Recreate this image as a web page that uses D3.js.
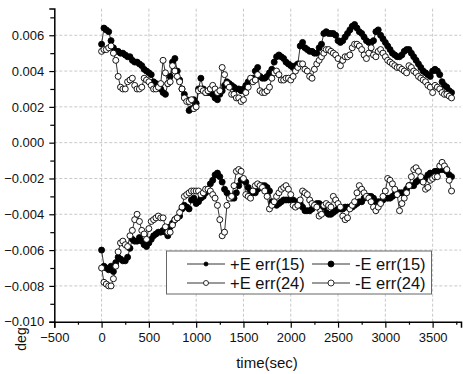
<!DOCTYPE html>
<html>
<head>
<meta charset="utf-8">
<script src="https://cdn.jsdelivr.net/npm/d3@7"></script>
<style>
  body { margin: 0; background: #fff; }
  svg { display: block; font-family: Arial, "Liberation Sans", sans-serif; }
</style>
</head>
<body>
<div id="chart"></div>
<script>
// sample times (sec)
const times = [
  0, 25, 50, 75, 100, 125, 150, 175, 200, 225,
  250, 275, 300, 325, 350, 375, 400, 425, 450, 475,
  500, 525, 550, 575, 600, 625, 650, 675, 700, 725,
  750, 775, 800, 825, 850, 875, 900, 925, 950, 975,
  1000, 1025, 1050, 1075, 1100, 1125, 1150, 1175, 1200, 1225,
  1250, 1275, 1300, 1325, 1350, 1375, 1400, 1425, 1450, 1475,
  1500, 1525, 1550, 1575, 1600, 1625, 1650, 1675, 1700, 1725,
  1750, 1775, 1800, 1825, 1850, 1875, 1900, 1925, 1950, 1975,
  2000, 2025, 2050, 2075, 2100, 2125, 2150, 2175, 2200, 2225,
  2250, 2275, 2300, 2325, 2350, 2375, 2400, 2425, 2450, 2475,
  2500, 2525, 2550, 2575, 2600, 2625, 2650, 2675, 2700, 2725,
  2750, 2775, 2800, 2825, 2850, 2875, 2900, 2925, 2950, 2975,
  3000, 3025, 3050, 3075, 3100, 3125, 3150, 3175, 3200, 3225,
  3250, 3275, 3300, 3325, 3350, 3375, 3400, 3425, 3450, 3475,
  3500, 3525, 3550, 3575, 3600, 3625, 3650, 3675, 3700
];

const plusErr15 = [
  0.0055, 0.0064, 0.0063, 0.0062, 0.0057, 0.0053, 0.0051, 0.0051, 0.0050, 0.0050,
  0.0049, 0.0048, 0.0048, 0.0046, 0.0045, 0.0045, 0.0044, 0.0043, 0.0041, 0.0040,
  0.0039, 0.0038, 0.0034, 0.0033, 0.0031, 0.0030, 0.0028, 0.0027, 0.0033, 0.0037,
  0.0045, 0.0047, 0.0040, 0.0035, 0.0030, 0.0027, 0.0024, 0.0018, 0.0019, 0.0024,
  0.0022, 0.0030, 0.0036, 0.0030, 0.0028, 0.0028, 0.0028, 0.0027, 0.0025, 0.0024,
  0.0027, 0.0029, 0.0032, 0.0034, 0.0033, 0.0032, 0.0031, 0.0030, 0.0030, 0.0029,
  0.0030, 0.0032, 0.0034, 0.0035, 0.0036, 0.0040, 0.0042, 0.0037, 0.0036, 0.0036,
  0.0037, 0.0039, 0.0041, 0.0045, 0.0048, 0.0049, 0.0048, 0.0047, 0.0045, 0.0044,
  0.0043, 0.0042, 0.0043, 0.0044, 0.0054, 0.0056, 0.0053, 0.0052, 0.0051, 0.0051,
  0.0050, 0.0050, 0.0053, 0.0055, 0.0061, 0.0062, 0.0061, 0.0061, 0.0061, 0.0060,
  0.0057, 0.0056, 0.0057, 0.0059, 0.0061, 0.0063, 0.0065, 0.0066, 0.0064, 0.0062,
  0.0061, 0.0059, 0.0057, 0.0056, 0.0056, 0.0057, 0.0062, 0.0063, 0.0060, 0.0058,
  0.0056, 0.0054, 0.0052, 0.0050, 0.0049, 0.0048, 0.0048, 0.0049, 0.0051, 0.0052,
  0.0052, 0.0050, 0.0048, 0.0046, 0.0044, 0.0042, 0.0040, 0.0039, 0.0038, 0.0037,
  0.0040, 0.0041, 0.0040, 0.0038, 0.0034, 0.0032, 0.0031, 0.0029, 0.0028
];

const minusErr15 = [
  -0.0060, -0.0069, -0.0070, -0.0071, -0.0069, -0.0072, -0.0067, -0.0064, -0.0065, -0.0066,
  -0.0066, -0.0064, -0.0059, -0.0054, -0.0055, -0.0055, -0.0053, -0.0055, -0.0057, -0.0058,
  -0.0056, -0.0054, -0.0052, -0.0051, -0.0050, -0.0050, -0.0049, -0.0050, -0.0052, -0.0047,
  -0.0045, -0.0043, -0.0042, -0.0041, -0.0037, -0.0035, -0.0036, -0.0037, -0.0032, -0.0031,
  -0.0034, -0.0033, -0.0031, -0.0030, -0.0028, -0.0026, -0.0023, -0.0021, -0.0018, -0.0017,
  -0.0019, -0.0022, -0.0026, -0.0028, -0.0030, -0.0031, -0.0031, -0.0028, -0.0024, -0.0021,
  -0.0021, -0.0022, -0.0025, -0.0027, -0.0028, -0.0028, -0.0026, -0.0025, -0.0024, -0.0024,
  -0.0025, -0.0027, -0.0033, -0.0034, -0.0035, -0.0034, -0.0033, -0.0032, -0.0032, -0.0032,
  -0.0032, -0.0032, -0.0033, -0.0033, -0.0034, -0.0036, -0.0038, -0.0038, -0.0038, -0.0037,
  -0.0035, -0.0034, -0.0034, -0.0035, -0.0036, -0.0039, -0.0040, -0.0040, -0.0039, -0.0038,
  -0.0037, -0.0037, -0.0037, -0.0036, -0.0036, -0.0036, -0.0036, -0.0035, -0.0034, -0.0033,
  -0.0033, -0.0031, -0.0030, -0.0030, -0.0030, -0.0031, -0.0033, -0.0033, -0.0033, -0.0032,
  -0.0031, -0.0031, -0.0031, -0.0030, -0.0029, -0.0028, -0.0028, -0.0028, -0.0028, -0.0026,
  -0.0024, -0.0024, -0.0024, -0.0022, -0.0021, -0.0021, -0.0021, -0.0020, -0.0018, -0.0017,
  -0.0017, -0.0016, -0.0016, -0.0015, -0.0015, -0.0015, -0.0016, -0.0018, -0.0019
];

const plusErr24 = [
  0.0051, 0.0052, 0.0052, 0.0053, 0.0054, 0.0050, 0.0046, 0.0037, 0.0031, 0.0030,
  0.0030, 0.0034, 0.0035, 0.0036, 0.0032, 0.0030, 0.0030, 0.0031, 0.0036, 0.0035,
  0.0034, 0.0032, 0.0030, 0.0030, 0.0031, 0.0033, 0.0046, 0.0039, 0.0033, 0.0034,
  0.0043, 0.0040, 0.0037, 0.0034, 0.0030, 0.0025, 0.0023, 0.0023, 0.0024, 0.0019,
  0.0020, 0.0029, 0.0030, 0.0029, 0.0028, 0.0029, 0.0030, 0.0032, 0.0030, 0.0028,
  0.0029, 0.0042, 0.0038, 0.0033, 0.0031, 0.0027, 0.0027, 0.0025, 0.0025, 0.0023,
  0.0024, 0.0028, 0.0031, 0.0036, 0.0034, 0.0035, 0.0038, 0.0029, 0.0028, 0.0028,
  0.0029, 0.0031, 0.0036, 0.0039, 0.0040, 0.0038, 0.0035, 0.0035, 0.0036, 0.0036,
  0.0035, 0.0037, 0.0040, 0.0042, 0.0044, 0.0044, 0.0041, 0.0040, 0.0037, 0.0036,
  0.0041, 0.0044, 0.0046, 0.0048, 0.0050, 0.0052, 0.0052, 0.0051, 0.0050, 0.0049,
  0.0047, 0.0043, 0.0046, 0.0048, 0.0048, 0.0049, 0.0053, 0.0055, 0.0055, 0.0054,
  0.0052, 0.0049, 0.0047, 0.0050, 0.0053, 0.0049, 0.0048, 0.0051, 0.0052, 0.0050,
  0.0048, 0.0046, 0.0045, 0.0044, 0.0043, 0.0042, 0.0042, 0.0041, 0.0040, 0.0039,
  0.0043, 0.0042, 0.0040, 0.0039, 0.0037, 0.0036, 0.0035, 0.0034, 0.0032, 0.0031,
  0.0028, 0.0032, 0.0031, 0.0030, 0.0028, 0.0027, 0.0027, 0.0026, 0.0025
];

const minusErr24 = [
  -0.0070, -0.0078, -0.0079, -0.0080, -0.0080, -0.0076, -0.0069, -0.0061, -0.0056, -0.0055,
  -0.0057, -0.0058, -0.0052, -0.0049, -0.0043, -0.0040, -0.0044, -0.0049, -0.0051, -0.0054,
  -0.0048, -0.0044, -0.0043, -0.0042, -0.0041, -0.0042, -0.0042, -0.0047, -0.0050, -0.0050,
  -0.0046, -0.0043, -0.0042, -0.0039, -0.0036, -0.0030, -0.0029, -0.0028, -0.0027, -0.0027,
  -0.0027, -0.0027, -0.0029, -0.0028, -0.0026, -0.0026, -0.0027, -0.0029, -0.0031, -0.0035,
  -0.0043, -0.0052, -0.0050, -0.0035, -0.0031, -0.0030, -0.0024, -0.0016, -0.0015, -0.0016,
  -0.0020, -0.0029, -0.0030, -0.0031, -0.0027, -0.0024, -0.0023, -0.0024, -0.0025, -0.0027,
  -0.0030, -0.0037, -0.0035, -0.0033, -0.0030, -0.0028, -0.0026, -0.0025, -0.0024, -0.0026,
  -0.0029, -0.0035, -0.0036, -0.0035, -0.0032, -0.0027, -0.0028, -0.0029, -0.0032, -0.0034,
  -0.0035, -0.0036, -0.0041, -0.0040, -0.0035, -0.0034, -0.0035, -0.0036, -0.0030, -0.0032,
  -0.0034, -0.0036, -0.0041, -0.0043, -0.0042, -0.0037, -0.0035, -0.0033, -0.0028, -0.0024,
  -0.0026, -0.0028, -0.0030, -0.0031, -0.0033, -0.0036, -0.0038, -0.0036, -0.0034, -0.0030,
  -0.0027, -0.0020, -0.0021, -0.0023, -0.0026, -0.0029, -0.0038, -0.0034, -0.0031, -0.0028,
  -0.0024, -0.0019, -0.0015, -0.0014, -0.0016, -0.0019, -0.0022, -0.0026, -0.0025, -0.0021,
  -0.0020, -0.0019, -0.0019, -0.0013, -0.0011, -0.0013, -0.0015, -0.0021, -0.0027
];

const seriesNames = ['+E err(15)', '-E err(15)', '+E err(24)', '-E err(24)'];

const xTickValues = [-500, 0, 500, 1000, 1500, 2000, 2500, 3000, 3500];
const yTickValues = [-0.010, -0.008, -0.006, -0.004, -0.002, 0.000, 0.002, 0.004, 0.006];

const W = 463, H = 374;

const svg = d3.select('#chart')
  .append('svg')
  .attr('width', W)
  .attr('height', H);

const x = d3.scaleLinear().domain([-500, 3800]).range([54.3, 461]);
const y = d3.scaleLinear().domain([-0.010, 0.0075]).range([321.7, 8.4]);

// --- Grid ---
const grid = svg.append('g').attr('class', 'grid')
  .attr('stroke', '#c8c8c8')
  .attr('stroke-width', 1)
  .attr('stroke-dasharray', '3,2');

grid.selectAll('.gx')
  .data(xTickValues.filter(d => d > -500))
  .enter().append('line')
  .attr('x1', d => x(d)).attr('x2', d => x(d))
  .attr('y1', y.range()[0]).attr('y2', y.range()[1]);

grid.selectAll('.gy')
  .data(yTickValues.filter(d => d > -0.010))
  .enter().append('line')
  .attr('x1', x.range()[0]).attr('x2', x.range()[1])
  .attr('y1', d => y(d)).attr('y2', d => y(d));

// --- Series ---
const series = [
  { name: seriesNames[0], values: plusErr15, fill: '#000', legendR: 2 },
  { name: seriesNames[1], values: minusErr15, fill: '#000', legendR: 3 },
  { name: seriesNames[2], values: plusErr24, fill: '#fff', legendR: 2.5 },
  { name: seriesNames[3], values: minusErr24, fill: '#fff', legendR: 3 }
];

const line = d3.line()
  .x(d => x(d[0]))
  .y(d => y(d[1]));

series.forEach(s => {
  const pts = times.map((t, i) => [t, s.values[i]]);
  const g = svg.append('g').attr('class', 'series');

  g.append('path')
    .datum(pts)
    .attr('fill', 'none')
    .attr('stroke', '#000')
    .attr('stroke-width', 0.8)
    .attr('d', line);

  g.selectAll('circle')
    .data(pts)
    .enter().append('circle')
    .attr('cx', d => x(d[0]))
    .attr('cy', d => y(d[1]))
    .attr('r', 3)
    .attr('fill', s.fill)
    .attr('stroke', '#000')
    .attr('stroke-width', 0.9);
});

// --- Axes ---
const fmtY = d3.format('.3f');

const xAxis = svg.append('g')
  .attr('transform', `translate(0,${y.range()[0]})`)
  .call(d3.axisBottom(x).tickValues(xTickValues).tickSize(6).tickPadding(5).tickFormat(d3.format('d')));

svg.append('g')
  .attr('class', 'minor')
  .attr('transform', `translate(0,${y.range()[0]})`)
  .call(d3.axisBottom(x).tickValues(d3.range(-250, 3800, 500)).tickSize(3).tickFormat(''))
  .call(g => g.select('.domain').remove());

const yAxis = svg.append('g')
  .attr('transform', `translate(${x.range()[0]},0)`)
  .call(d3.axisLeft(y).tickValues(yTickValues).tickSize(5).tickPadding(5).tickFormat(fmtY));

svg.append('g')
  .attr('class', 'minor')
  .attr('transform', `translate(${x.range()[0]},0)`)
  .call(d3.axisLeft(y).tickValues([-0.009, -0.007, -0.005, -0.003, -0.001, 0.001, 0.003, 0.005, 0.007]).tickSize(4).tickFormat(''))
  .call(g => g.select('.domain').remove());

[xAxis, yAxis].forEach(a => {
  a.select('.domain').attr('stroke', '#000').attr('stroke-width', 1.5);
  a.selectAll('.tick line').attr('stroke', '#000').attr('stroke-width', 1.2);
  a.selectAll('.tick text')
    .attr('fill', '#111')
    .style('font-size', '13px')
    .style('font-family', 'Arial, "Liberation Sans", sans-serif');
});
svg.selectAll('.minor .tick line').attr('stroke-width', 1.2);

// --- Axis titles ---
svg.append('text')
  .attr('x', 267)
  .attr('y', 368)
  .attr('text-anchor', 'middle')
  .attr('font-size', '15px')
  .attr('fill', '#111')
  .text('time(sec)');

svg.append('text')
  .attr('transform', 'translate(26,339) rotate(-90)')
  .attr('text-anchor', 'middle')
  .attr('font-size', '14px')
  .attr('fill', '#111')
  .text('deg');

// --- Legend ---
const legend = svg.append('g').attr('class', 'legend');

legend.append('rect')
  .attr('x', 166.5)
  .attr('y', 251)
  .attr('width', 265)
  .attr('height', 43)
  .attr('fill', '#fff')
  .attr('stroke', '#666')
  .attr('stroke-width', 1);

const legendPos = [
  { lx: 187, ty: 264 },
  { lx: 312, ty: 264 },
  { lx: 187, ty: 283 },
  { lx: 312, ty: 283 }
];

series.forEach((s, i) => {
  const p = legendPos[i];
  legend.append('line')
    .attr('x1', p.lx).attr('x2', p.lx + 38)
    .attr('y1', p.ty).attr('y2', p.ty)
    .attr('stroke', '#000')
    .attr('stroke-width', 0.8);
  legend.append('circle')
    .attr('cx', p.lx + 19)
    .attr('cy', p.ty)
    .attr('r', s.legendR)
    .attr('fill', s.fill)
    .attr('stroke', '#000')
    .attr('stroke-width', 0.8);
  legend.append('text')
    .attr('x', p.lx + 43)
    .attr('y', p.ty)
    .attr('dy', '0.35em')
    .attr('font-size', '16.5px')
    .attr('fill', '#111')
    .text(s.name);
});
</script>
</body>
</html>
